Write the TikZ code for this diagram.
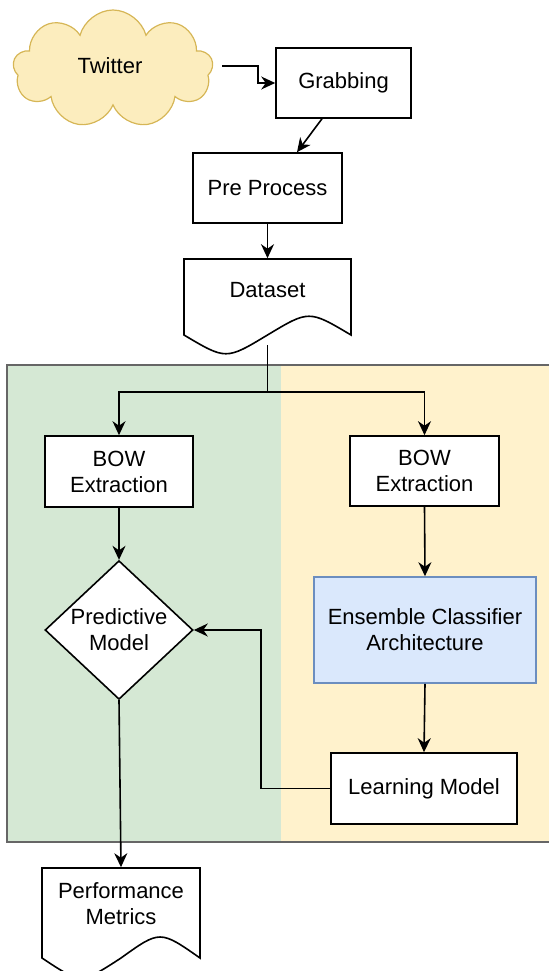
\documentclass[tikz,border=0pt]{standalone}
\usepackage{fontspec}
\setmainfont{Liberation Sans}
\usepackage{tikz}
\usetikzlibrary{positioning,shapes.geometric,shapes.symbols,arrows.meta,calc}

\definecolor{greenbg}{HTML}{D5E8D4}
\definecolor{yellowbg}{HTML}{FFF2CC}
\definecolor{cloudfill}{HTML}{FCEDBE}
\definecolor{cloudline}{HTML}{D6B656}
\definecolor{bluefill}{HTML}{DAE8FC}
\definecolor{blueline}{HTML}{6C8EBF}

\begin{document}
\begin{tikzpicture}[x=1pt,y=-1pt,line width=1.6pt,
    >={Stealth[length=14pt,width=13pt,inset=4.5pt]},
    every node/.style={font=\fontsize{22}{26}\selectfont},
    box/.style={draw,fill=white,align=center,inner sep=0pt},
    doctext/.style={align=center,inner sep=0pt}]
    \useasboundingbox (0,0) rectangle (549,971);
    % swim lanes
    \fill[greenbg] (7,365) rectangle (281,842);
    \fill[yellowbg] (281,365) rectangle (549,842);
    \draw[black!60,line width=1.3pt] (549,365) -- (7,365) -- (7,842) -- (549,842);
    % document shapes
    \draw[fill=white] (184,259) -- (351,259) -- (351,335) .. controls (309,310) .. (267.5,335)
        .. controls (226,360) .. (184,335) -- cycle;
    \draw[fill=white] (42,868) -- (200,868) -- (200,958) .. controls (160,930) .. (121,958)
        .. controls (81,984) .. (42,958) -- cycle;
    % nodes
    \node[cloud,cloud puffs=9,aspect=1.7,draw=cloudline,fill=cloudfill,line width=1.2pt,
        minimum width=200pt,minimum height=118pt] (tw) at (113,69) {};
    \node at (110,66) {Twitter};
    \node[box,minimum width=135pt,minimum height=70pt] (grab) at (343.5,83) {Grabbing};
    \node[box,minimum width=149pt,minimum height=70pt] (pre) at (267.5,188) {Pre Process};
    \node[doctext,minimum width=167pt,minimum height=62pt] (data) at (267.5,290) {Dataset};
    \node[box,minimum width=148pt,minimum height=71pt] (bowl) at (119,471.5) {BOW\\Extraction};
    \node[box,minimum width=149pt,minimum height=70pt] (bowr) at (424.5,471) {BOW\\Extraction};
    \node[box,diamond,minimum width=148pt,minimum height=138pt] (pred) at (119,630) {Predictive\\Model};
    \node[box,draw=blueline,fill=bluefill,minimum width=222pt,minimum height=106pt] (ens) at (425,630)
        {Ensemble Classifier\\Architecture};
    \node[box,minimum width=186pt,minimum height=71pt] (learn) at (424,788.5) {Learning Model};
    \node[doctext,minimum width=158pt,minimum height=72pt] (perf) at (121,904) {Performance\\Metrics};
    \coordinate (twout) at (222,66);
    \coordinate (datab) at (267.5,345);
    \coordinate (split) at (267.5,392);
    % connectors
    \draw[->] (twout) -- ++(36,0) |- (grab.west);
    \draw[->] ($(grab.south)+(-21.5,0)$) -- ($(pre.north)+(29.5,0)$);
    \draw[->] (pre.south) -- (data.north);
    \draw (datab) -- (split);
    \draw[->] (split) -| (bowl.north);
    \draw[->] (split) -| (bowr.north);
    \draw[->] (bowl.south) -- (pred.north);
    \draw[->] (bowr.south) -- (ens.north);
    \draw[->] (ens.south) -- (learn.north);
    \draw[->] (learn.west) -- ++(-69,0) |- (pred.east);
    \draw[->] (pred.south) -- (perf.north);
\end{tikzpicture}
\end{document}
